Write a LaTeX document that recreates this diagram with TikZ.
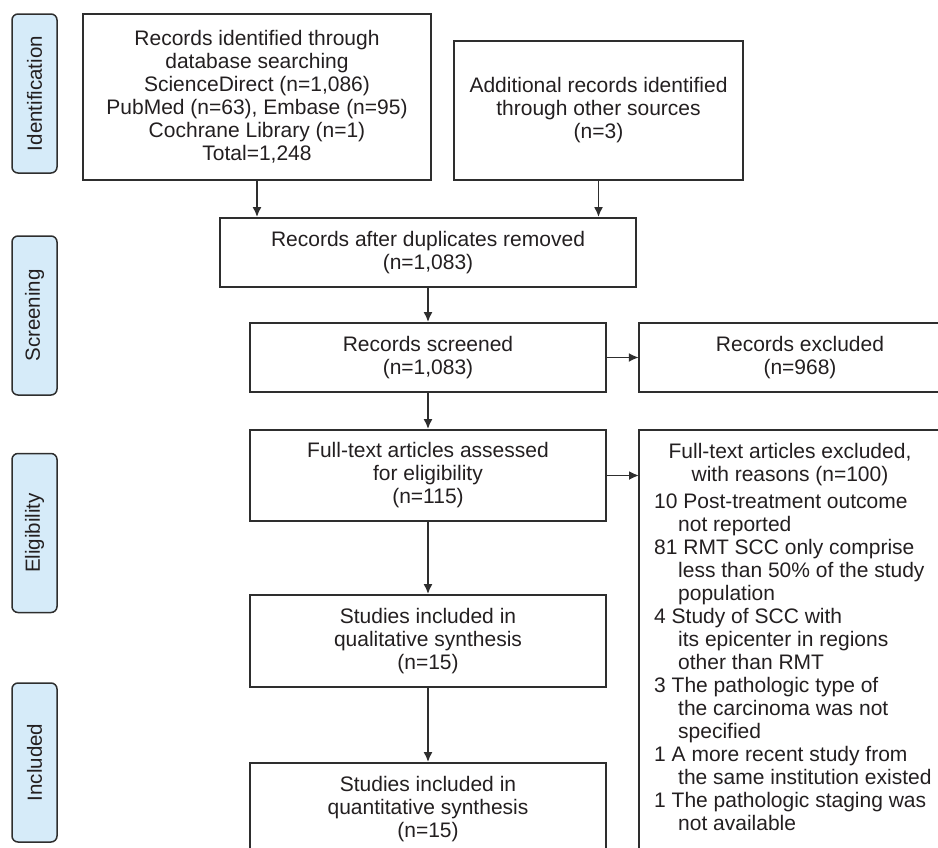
\documentclass[tikz,border=0pt]{standalone}
\usepackage{fontspec}
\setmainfont{Liberation Sans}
\usetikzlibrary{arrows.meta}
\definecolor{txt}{HTML}{231F20}
\definecolor{sidefill}{HTML}{D6EBF9}
\definecolor{linec}{HTML}{2E2E2E}
\begin{document}
\begin{tikzpicture}[x=1pt,y=-1pt,
  box/.style={draw=linec, line width=1.8pt, inner sep=0pt, align=center, text=txt,
    font=\fontsize{21}{23}\selectfont},
  openbox/.style={draw=none, inner sep=0pt, align=center, text=txt,
    font=\fontsize{21}{23}\selectfont},
  edge/.style={draw=linec, line width=1.8pt},
  plain/.style={inner sep=0pt, text=txt, font=\fontsize{21}{23}\selectfont},
  side/.style={rotate=90, draw=linec, line width=1.5pt, fill=sidefill, rounded corners=6pt,
    minimum width=159pt, minimum height=45pt, inner sep=0pt, text=txt,
    font=\fontsize{20.5}{23}\selectfont},
  arr/.style={draw=linec, line width=1.8pt, -{Latex[length=10pt,width=9pt]}}]
\useasboundingbox (0,0) rectangle (938,847);
\clip (0,0) rectangle (938,847);

% phase labels
\node[side] (sidid) at (34.5,93.5) {Identification};
\node[side] (sidscr) at (34.5,315.5) {Screening};
\node[side] (sidelig) at (34.5,533) {Eligibility};
\node[side] (sidinc) at (34.5,762.5) {Included};

% main boxes
\node[box, minimum width=348pt, minimum height=166pt] (ident) at (257,97)
  {Records identified through\\database searching\\ScienceDirect (n=1,086)\\PubMed (n=63), Embase (n=95)\\Cochrane Library (n=1)\\Total=1,248};
\node[box, minimum width=289pt, minimum height=139pt] (addl) at (598.5,110.5)
  {Additional records identified\\through other sources\\(n=3)};
\node[box, minimum width=416pt, minimum height=69pt] (dedup) at (428,252.5)
  {Records after duplicates removed\\(n=1,083)};
\node[box, minimum width=356pt, minimum height=69pt] (screen) at (428,357.5)
  {Records screened\\(n=1,083)};
\node[box, minimum width=356pt, minimum height=91pt] (full) at (428,475.5)
  {Full-text articles assessed\\for eligibility\\(n=115)};
\node[box, minimum width=356pt, minimum height=92pt] (qual) at (428,641)
  {Studies included in\\qualitative synthesis\\(n=15)};
\node[box, minimum width=356pt, minimum height=92pt] (quant) at (428,809)
  {Studies included in\\quantitative synthesis\\(n=15)};

% records excluded (runs off the right edge)
\node[openbox, minimum width=322pt, minimum height=69pt] (excl) at (800,357.5)
  {Records excluded\\(n=968)};
\draw[edge] (excl.north east) -- (excl.north west) -- (excl.south west) -- (excl.south east);

% full-text exclusion box (runs off the right and bottom edges)
\node[openbox, minimum width=340pt, minimum height=440pt, anchor=north west] (ftex) at (639,430) {};
\draw[edge] (ftex.north east) -- (ftex.north west) -- (ftex.south west);
\node[plain, align=center, anchor=north] (ftexhead) at (790,443)
  {Full-text articles excluded,\\with reasons (n=100)};
\node[plain, align=left, anchor=north west] (ftexlist) at (654,494)
  {10 Post-treatment outcome\\
   \hspace*{24pt}not reported\\
   81 RMT SCC only comprise\\
   \hspace*{24pt}less than 50\% of the study\\
   \hspace*{24pt}population\\
   4 Study of SCC with\\
   \hspace*{24pt}its epicenter in regions\\
   \hspace*{24pt}other than RMT\\
   3 The pathologic type of\\
   \hspace*{24pt}the carcinoma was not\\
   \hspace*{24pt}specified\\
   1 A more recent study from\\
   \hspace*{24pt}the same institution existed\\
   1 The pathologic staging was\\
   \hspace*{24pt}not available};

% connectors
\draw[arr] (ident.south) -- (ident.south |- dedup.north);
\draw[arr] (addl.south) -- (addl.south |- dedup.north);
\draw[arr] (dedup.south) -- (screen.north);
\draw[arr] (screen.east) -- (excl.west);
\draw[arr] (screen.south) -- (full.north);
\draw[arr] (full.east) -- (full.east -| ftex.west);
\draw[arr] (full.south) -- (qual.north);
\draw[arr] (qual.south) -- (quant.north);
\end{tikzpicture}
\end{document}
